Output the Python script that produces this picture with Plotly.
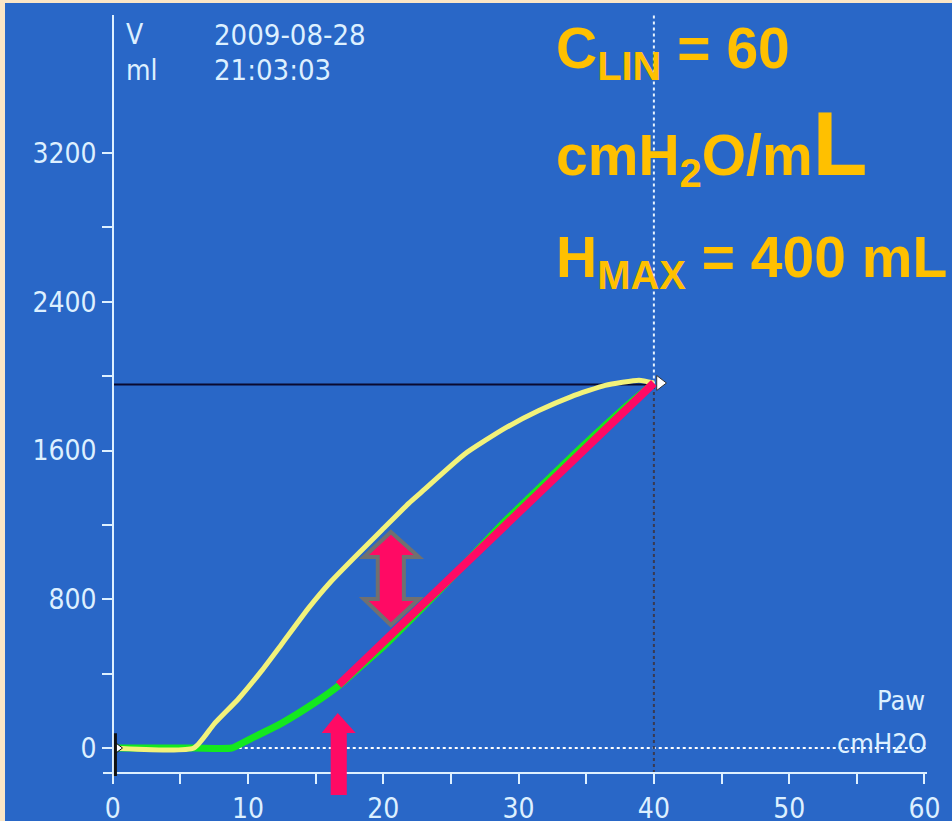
import plotly.graph_objects as go

# ---------------- data ----------------
# deflation limb (yellow)
yellow_p = [0, 6.0, 7.5, 9.3, 11.0, 12.5, 14.5, 16.0, 17.9, 19.9, 21.9, 22.8, 26.0, 29.0, 31.5, 33.9, 36.4, 38.9, 40.0]
yellow_v = [0, 0, 130, 265, 415, 560, 755, 885, 1027, 1172, 1317, 1375, 1580, 1720, 1815, 1890, 1950, 1978, 1963]
# inflation limb (green)
green_p = [0, 6.0, 8.8, 10.0, 12.5, 14.9, 16.7, 18.5, 20.0, 23.1, 25.3, 28.8, 31.0, 33.4, 35.2, 37.6, 40.0]
green_v = [0, 0, 0, 43, 134, 242, 335, 450, 545, 770, 935, 1205, 1360, 1530, 1655, 1815, 1963]
# linear compliance segment (red)
lin_p = [16.7, 40.0]
lin_v = [339, 1963]
# reference lines
p_max = 40.0
v_max = 1955
# axis ticks
x_major = [0, 10, 20, 30, 40, 50, 60]
x_minor = [5, 15, 25, 35, 45, 55]
x_all = [0, 5, 10, 15, 20, 25, 30, 35, 40, 45, 50, 55, 60]
y_major = [0, 800, 1600, 2400, 3200]
y_minor = [400, 1200, 2000, 2800]
y_all = [0, 400, 800, 1200, 1600, 2000, 2400, 2800, 3200]

# layout frame: positions below are given on a 952x821 grid
W, H = 952, 821
FIG_W, FIG_H = 967, 825
BLUE = "#2967C7"
TXT = "#DDF0FF"
YEL = "#FFC000"
PINK = "#FF0A64"
FONT = "DejaVu Sans Condensed, DejaVu Sans, sans-serif"

def px(x):
    return x / W

def py(y):
    return 1 - y / H

x_rng = [-0.704, 60.185]
y_rng = [-172, 3942]
xdom = [px(103), px(925)]
ydom = [py(780), py(15)]

fig = go.Figure()
fig.add_trace(go.Scatter(x=green_p, y=green_v, mode="lines",
                         line=dict(color="#14E81E", width=7, shape="spline", smoothing=0.5),
                         hoverinfo="skip"))
fig.add_trace(go.Scatter(x=yellow_p, y=yellow_v, mode="lines",
                         line=dict(color="#F2F27A", width=5, shape="spline", smoothing=0.5),
                         hoverinfo="skip"))
fig.add_trace(go.Scatter(x=lin_p, y=lin_v, mode="lines",
                         line=dict(color=PINK, width=8), hoverinfo="skip"))
fig.add_trace(go.Scatter(x=[p_max + 0.45], y=[lin_v[-1]], mode="markers",
                         marker=dict(symbol="triangle-right", size=13, color="white",
                                     line=dict(color="#333", width=1)), hoverinfo="skip"))
fig.add_trace(go.Scatter(x=[0.35], y=[0], mode="markers",
                         marker=dict(symbol="triangle-right", size=10, color="white",
                                     line=dict(color="#111", width=1)), hoverinfo="skip"))

axis_common = dict(showgrid=False, zeroline=False, showline=True, linecolor=TXT, linewidth=2,
                   tickcolor=TXT, tickwidth=2, ticklen=10, anchor="free", fixedrange=True)

fig.update_layout(
    width=FIG_W, height=FIG_H, margin=dict(l=0, r=0, t=0, b=0), autosize=False,
    paper_bgcolor=BLUE, plot_bgcolor=BLUE, showlegend=False,
    xaxis=dict(range=x_rng, domain=xdom, position=py(773), ticks="outside",
               tickmode="array", tickvals=x_major, ticktext=[str(v) for v in x_major],
               tickfont=dict(family=FONT, size=28, color=TXT),
               minor=dict(tickmode="array", tickvals=x_minor, ticks="outside", ticklen=10,
                          tickwidth=2, tickcolor=TXT),
               **axis_common),
    xaxis2=dict(range=x_rng, overlaying="x", position=py(773), ticks="inside",
                tickmode="array", tickvals=x_all, showticklabels=False,
                **axis_common),
    yaxis=dict(range=y_rng, domain=ydom, position=px(113), ticks="outside",
               tickmode="array", tickvals=y_major, ticktext=[str(v) for v in y_major],
               tickfont=dict(family=FONT, size=28, color=TXT),
               minor=dict(tickmode="array", tickvals=y_minor, ticks="outside", ticklen=10,
                          tickwidth=2, tickcolor=TXT),
               **axis_common),
    yaxis2=dict(range=y_rng, overlaying="y", position=px(113), ticks="inside",
                tickmode="array", tickvals=y_all, showticklabels=False,
                **axis_common),
)

shapes = []
# peach frame strips (left and top edge of the slide)
shapes.append(dict(type="rect", xref="paper", yref="paper", x0=0, x1=px(5), y0=0, y1=1,
                   fillcolor="#FBE6C6", line=dict(width=0), layer="below"))
shapes.append(dict(type="rect", xref="paper", yref="paper", x0=0, x1=1, y0=py(3), y1=1,
                   fillcolor="#FBE6C6", line=dict(width=0), layer="below"))
# dotted zero line
shapes.append(dict(type="line", xref="x", yref="y", x0=0, x1=x_rng[1], y0=0, y1=0,
                   line=dict(color="white", width=2, dash="dot"), layer="below"))
# vertical line at peak pressure
shapes.append(dict(type="line", xref="x", yref="y", x0=p_max, x1=p_max, y0=v_max, y1=y_rng[1],
                   line=dict(color="#E8F4FF", width=2, dash="dot"), layer="below"))
shapes.append(dict(type="line", xref="x", yref="y", x0=p_max, x1=p_max, y0=-134, y1=v_max,
                   line=dict(color="#3A3A50", width=2, dash="dot"), layer="below"))
# horizontal line at peak volume
shapes.append(dict(type="line", xref="x", yref="y", x0=0, x1=p_max, y0=v_max, y1=v_max,
                   line=dict(color="#0A0A30", width=2), layer="below"))
# origin cursor
shapes.append(dict(type="line", xref="x", yref="y", x0=0.2, x1=0.2, y0=-150, y1=80,
                   line=dict(color="#111", width=3)))
# double arrow (hysteresis)
da = [(20.56, 1162), (22.63, 1027), (21.52, 1027), (21.52, 801), (22.63, 801), (20.56, 662),
      (18.56, 801), (19.59, 801), (19.59, 1027), (18.56, 1027)]
path = "M " + " L ".join(f"{a},{b}" for a, b in da) + " Z"
shapes.append(dict(type="path", xref="x", yref="y", path=path, fillcolor=PINK,
                   line=dict(color="#707070", width=4)))
# up arrow (lower inflection) - x in data, y in paper so it can reach below the axis
ua_y = [713, 733, 733, 795, 795, 733, 733]
ua_x = [16.63, 17.96, 17.30, 17.30, 16.11, 16.11, 15.44]
path2 = "M " + " L ".join(f"{a},{py(b)}" for a, b in zip(ua_x, ua_y)) + " Z"
shapes.append(dict(type="path", xref="x", yref="paper", path=path2, fillcolor=PINK,
                   line=dict(width=0)))
fig.update_layout(shapes=shapes)

ann = []
def txt(x, y, s, size, color=TXT, xanchor="left", family=FONT):
    ann.append(dict(xref="paper", yref="paper", x=px(x), y=py(y), text=s, showarrow=False,
                    xanchor=xanchor, yanchor="middle", font=dict(family=family, size=size, color=color)))

txt(124, 35, "V", 28)
txt(124, 70, "ml", 28)
txt(212, 35, "2009-08-28", 29)
txt(212, 70, "21:03:03", 29)
txt(925, 700, "Paw", 27, xanchor="right")
txt(927, 743, "cmH2O", 27, xanchor="right")

AR = "Liberation Sans, Arial, sans-serif"
txt(553, 52, "<b>C<sub>LIN</sub> = 60</b>", 57, color=YEL, family=AR)
txt(553, 144, "<b>cmH<sub>2</sub>O/m<span style='font-size:90px'>L</span></b>", 57, color=YEL, family=AR)
txt(553, 261, "<b>H<sub>MAX</sub> = 400 mL</b>", 57, color=YEL, family=AR)
fig.update_layout(annotations=ann)

fig.write_html("out.html", config={"displayModeBar": False, "responsive": False},
               post_script="var gd=document.getElementById('{plot_id}');"
                           "gd.style.position='fixed';gd.style.left='0px';gd.style.top='0px';"
                           "document.documentElement.style.overflow='hidden';"
                           "document.body.style.overflow='hidden';"
                           "document.body.style.margin='0';document.body.style.padding='0';"
                           "document.body.style.background='#2967C7';")
